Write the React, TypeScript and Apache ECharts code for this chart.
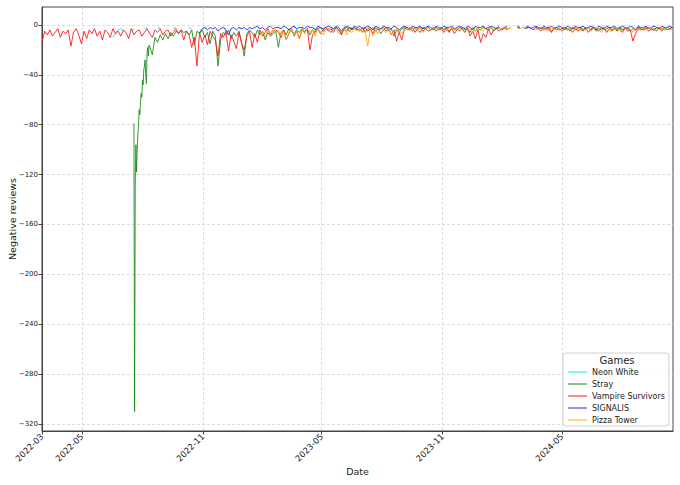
import React, { useEffect, useRef } from "react";
import * as echarts from "echarts";

// ---------- data ----------
const SERIES_NAMES = ["Neon White", "Stray", "Vampire Survivors", "SIGNALIS", "Pizza Tower"];
const SERIES_COLORS = ["#00e8e8", "#138a13", "#ff1010", "#2020e6", "#ffa500"];

const X_START = "2022-03-01";
const X_END = "2024-10-17";
const X_TICKS = ["2022-03-01", "2022-05-01", "2022-11-01", "2023-05-01", "2023-11-01", "2024-05-01"];
const Y_TICKS = [0, -40, -80, -120, -160, -200, -240, -280, -320];
const Y_MIN = -325.6;
const Y_MAX = 14.4;

// values sampled every STEP_DAYS days starting at X_START (index 0)
const STEP_DAYS = 4;

const vampireSurvivorsStart = 0;
const vampireSurvivors = [
  -14, -5, -8, -4, -9, -6, -3, -10, -5, -7,
  -4, -17, -6, -3, -8, -15, -5, -11, -4, -7,
  -3, -9, -5, -12, -4, -6, -10, -3, -7, -5,
  -9, -4, -6, -11, -3, -8, -5, -4, -9, -6,
  -3, -7, -10, -4, -6, -3, -8, -5, -4, -9,
  -6, -3, -7, -4, -12, -5, -8, -18, -10, -33,
  -6, -14, -8, -16, -5, -9, -12, -25, -7, -10,
  -5, -21, -8, -13, -19, -6, -15, -20, -9, -5,
  -18, -7, -14, -4, -9, -6, -3, -8, -5, -4,
  -6, -10, -4, -12, -7, -3, -9, -5, -11, -4,
  -6, -3, -20, -8, -5, -3, -7, -4, -2, -5,
  -3, -6, -2, -4, -8, -3, -2, -5, -3, -2,
  -4, -3, -6, -2, -5, -3, -7, -2, -4, -3,
  -2, -5, -3, -8, -4, -13, -6, -12, -3, -2,
  -4, -2, -6, -3, -2, -5, -3, -2, -4, -3,
  -2, -4, -3, -6, -2, -5, -3, -7, -4, -2,
  -3, -6, -2, -9, -5, -11, -4, -14, -7, -10,
  -3, -8, -4, -2, -5, -3, -2, -4, -2, null,
  null, -2, -3, null, -3, -2, -2, -4, -2, -3,
  -5, -2, -4, -3, -6, -2, -4, -3, -5, -2,
  -4, -3, -6, -2, -5, -3, -4, -2, -6, -3,
  -2, -5, -3, -4, -2, -6, -3, -5, -2, -4,
  -3, -6, -2, -5, -4, -13, -7, -3, -4, -3,
  -2, -5, -3, -4, -2, -3, -5, -2, -4, -3, -2,
];

// Stray launch: daily values from 2022-07-19
const strayLaunchDate = "2022-07-19";
const strayLaunch = [
  -79, -310, -128, -96, -118, -100, -88, -80, -68, -72, -62, -55,
  -58, -44, -48, -36, -33, -28, -40, -47, -22, -18, -25, -16,
];
const strayStart = 41;
const stray = [
  -17, -24, -10, -14, -8, -12, -7, -11, -6,
  -9, -5, -7, -4, -6, -5, -8, -4, -16, -5,
  -7, -4, -10, -6, -15, -5, -9, -33, -12, -6,
  -8, -4, -11, -6, -9, -5, -14, -25, -7, -4,
  -6, -10, -4, -8, -5, -12, -6, -9, -7, -5,
  -18, -6, -4, -8, -3, -5, -7, -4, -6, -3,
  -5, -3, -8, -4, -6, -3, -2, -5, -4, -3,
  -6, -3, -2, -4, -7, -3, -5, -2, -4, -3,
  -3, -5, -2, -6, -3, -4, -2, -5, -3, -7,
  -4, -2, -5, -3, -9, -4, -6, -3, -2, -4,
  -3, -5, -2, -4, -6, -2, -3, -5, -4, -2,
  -5, -3, -2, -4, -3, -6, -2, -4, -3, -5,
  -2, -4, -3, -6, -2, -5, -3, -4, -2, -3,
  -4, -2, -5, -3, -2, -4, -3, -2, null, null,
  null, -2, -3, null, -3, -2, null, -4, -2, -3,
  -2, -4, -3, -2, -5, -3, -2, -4, -3, -2,
  -3, -5, -2, -4, -3, -2, -5, -3, -2, -4,
  -2, -3, -5, -2, -4, -3, -2, -4, -3, -5,
  -2, -4, -3, -2, -5, -3, -4, -2, -3, -4,
  -3, -2, -4, -3, -5, -2, -3, -4, -2, -3, -2,
];

// Neon White: sparse days with reviews (null = no negative reviews that day)
const neonWhiteStart = 27;
const neonWhite = [
  -10, -6, -4,
  -3, -5, null, null, -3, -4, null, null, null, -3,
  -2, null, null, null, -3, -2, null, null, null, null,
  -3, -2, null, null, null, null, -2, -3, null, null,
  null, null, -3, -2, null, null, null, null, null, -2,
  -3, null, null, null, null, -2, -3, null, null, null,
  null, null, -2, -3, null, null, null, null, null, null,
  -2, -3, null, null, null, null, -2, -3, null, null,
  null, null, null, -2, -3, null, null, null, null, null,
  -2, -3, null, null, null, null, null, -3, -2, null,
  null, null, null, null, -2, -3, null, null, null, null,
  null, -2, -3, null, null, null, null, null, -3, -2,
  null, null, null, null, null, -2, -3, null, null, null,
  null, null, null, -3, -2, null, null, null, null, null,
  -2, -3, null, null, null, null, null, null, -2, -3,
  null, null, null, null, null, null, null, null, -2, null,
  null, null, null, -2, -3, null, null, null, null, null,
  -2, -3, null, null, null, null, null, null, -3, -2,
  null, null, null, null, null, -2, -3, null, null, null,
  null, null, null, -3, -2, null, null, null, null, null,
  -2, -3, null, null, null, null, null, -2, -3, null,
  null, null, null, null, -3, -2, null, null, null, null, null,
];

const signalisStart = 60;
const signalis = [
  -6, -3, -2, -4, -2, -3, -2, -5, -3, -2,
  -4, -8, -3, -2, -4, -2, -3, -2, -4, -2,
  -3, -2, -1, -3, -2, -4, -2, -1, -3, -2,
  -2, -3, -1, -2, -4, -2, -1, -3, -2, -2,
  -3, -1, -2, -2, -4, -1, -2, -3, -2, -1,
  -2, -3, -1, -2, -5, -2, -1, -2, -3, -1,
  -2, -1, -3, -2, -1, -2, -4, -1, -2, -3,
  -1, -2, -2, -3, -1, -2, -4, -2, -1, -2,
  -3, -1, -2, -2, -1, -3, -2, -1, -2, -4,
  -1, -2, -3, -1, -2, -2, -1, -3, -2, -1,
  -2, -3, -1, -2, -4, -1, -2, -2, -1, -3,
  -2, -1, -2, -3, -1, null, -2, -1, null, -2,
  null, -1, -2, null, -2, -1, -3, -2, -1, -2,
  -3, -1, -2, -2, -1, -3, -2, -1, -2, -4,
  -1, -2, -3, -1, -2, -2, -1, -3, -2, -1,
  -2, -4, -1, -2, -3, -1, -2, -2, -1, -3,
  -2, -1, -2, -3, -1, -2, -4, -1, -2, -2,
  -1, -3, -2, -1, -2, -3, -1, -2, -2, -1, -2,
];

const pizzaTowerStart = 83;
const pizzaTower = [
  -8, -5, -10, -4, -7, -3, -6,
  -4, -9, -5, -12, -6, -3, -8, -5, -11, -4,
  -7, -3, -6, -4, -9, -3, -5, -8, -4, -3,
  -6, -4, -3, -7, -5, -3, -8, -4, -6, -3,
  -5, -3, -6, -4, -17, -3, -9, -4, -7, -3,
  -4, -6, -3, -8, -4, -3, -5, -7, -3, -4,
  -2, -5, -3, -4, -2, -6, -3, -2, -4, -3,
  -3, -2, -4, -3, -5, -2, -3, -4, -2, -3,
  -4, -2, -5, -3, -6, -2, -4, -3, -5, -2,
  -3, -2, -4, -2, -3, null, -2, -3, -3, -2,
  null, -2, -3, -2, -2, -3, null, -2, -4, -3,
  -2, -4, -3, -5, -2, -3, -4, -2, -5, -3,
  -4, -2, -6, -3, -2, -5, -3, -4, -2, -5,
  -3, -2, -4, -6, -3, -2, -5, -3, -4, -2,
  -5, -3, -2, -4, -3, -6, -2, -4, -3, -2,
  -4, -3, -2, -5, -3, -2, -4, -3, -2, -4, -3,
];

// ---------- helpers ----------
function parseDate(s: string, addDays = 0): number {
  const [y, m, d] = s.split("-").map(Number);
  return new Date(y, m - 1, d + addDays).getTime();
}

function gridSeries(startIndex: number, values: (number | null)[]) {
  return values.map((v, k) => [parseDate(X_START, (startIndex + k) * STEP_DAYS), v]);
}

function dailySeries(startDate: string, values: (number | null)[]) {
  return values.map((v, k) => [parseDate(startDate, k), v]);
}

const FONT = "DejaVu Sans";
const LEGEND_COLORS = [
  "rgba(0,232,232,0.75)",
  "rgba(19,138,19,0.75)",
  "rgba(255,16,16,0.75)",
  "rgba(32,32,230,0.75)",
  "rgba(255,165,0,0.75)",
];

export default function App() {
  const ref = useRef<HTMLDivElement>(null);

  useEffect(() => {
    document.body.style.margin = "0";
    if (!ref.current) return;
    const chart = echarts.init(ref.current, undefined, { renderer: "svg" });

    const seriesData = [
      gridSeries(neonWhiteStart, neonWhite),
      [...dailySeries(strayLaunchDate, strayLaunch), ...gridSeries(strayStart, stray)],
      gridSeries(vampireSurvivorsStart, vampireSurvivors),
      gridSeries(signalisStart, signalis),
      gridSeries(pizzaTowerStart, pizzaTower),
    ];

    const xTickValues = X_TICKS.map((s) => parseDate(s));

    const option = {
      animation: false,
      backgroundColor: "#ffffff",
      textStyle: { fontFamily: FONT },
      grid: {
        left: 42,
        top: 7,
        right: 7,
        bottom: 54,
        show: true,
        borderColor: "#444",
        borderWidth: 1,
        backgroundColor: "transparent",
        containLabel: false,
        outerBoundsMode: "none",
      },
      xAxis: {
        type: "value",
        min: parseDate(X_START),
        max: parseDate(X_END),
        name: "Date",
        nameLocation: "middle",
        nameGap: 35,
        nameMoveOverlap: false,
        nameTextStyle: { fontSize: 9.5, color: "#222", fontFamily: FONT },
        axisLine: { show: true, onZero: false, lineStyle: { color: "#444", width: 1 } },
        axisTick: { show: true, customValues: xTickValues, length: 3.5, lineStyle: { color: "#444" } },
        axisLabel: {
          customValues: xTickValues,
          rotate: 45,
          fontSize: 8.5,
          color: "#222",
          fontFamily: FONT,
          margin: 4,
          showMinLabel: true,
          showMaxLabel: true,
          formatter: (v: number) => {
            const d = new Date(v);
            const m = d.getMonth() + 1;
            return `${d.getFullYear()}-${m < 10 ? "0" + m : m}`;
          },
        },
        splitLine: { show: true, lineStyle: { color: "#d4d4d4", width: 0.8, type: [3, 2] } },
      },
      yAxis: {
        type: "value",
        min: Y_MIN,
        max: Y_MAX,
        name: "Negative reviews",
        nameLocation: "middle",
        nameGap: 25,
        nameRotate: 90,
        nameMoveOverlap: false,
        nameTextStyle: { fontSize: 9.5, color: "#222", fontFamily: FONT },
        axisLine: { show: true, onZero: false, lineStyle: { color: "#444", width: 1 } },
        axisTick: { show: true, customValues: Y_TICKS, length: 3.5, lineStyle: { color: "#444" } },
        axisLabel: {
          customValues: Y_TICKS,
          fontSize: 7,
          color: "#222",
          fontFamily: FONT,
          margin: 4,
          formatter: (v: number) => (v < 0 ? "\u2212" + Math.abs(v) : String(v)),
        },
        splitLine: { show: true, lineStyle: { color: "#d4d4d4", width: 0.8, type: [3, 2] } },
      },
      legend: {
        data: SERIES_NAMES.map((name, i) => ({
          name,
          icon: "rect",
          itemStyle: { color: LEGEND_COLORS[i] },
        })),
        orient: "vertical",
        left: 563,
        top: 353,
        padding: [15, 4, 2, 5],
        itemWidth: 19,
        itemHeight: 1.3,
        itemGap: 4,
        backgroundColor: "rgba(255,255,255,0.85)",
        borderColor: "#d0d0d0",
        borderWidth: 1,
        borderRadius: 3,
        textStyle: { fontSize: 8, color: "#222", fontFamily: FONT, lineHeight: 8, height: 8 },
      },
      graphic: [
        {
          type: "text",
          x: 617,
          y: 360,
          z: 200,
          style: {
            text: "Games",
            fontSize: 10,
            fontFamily: FONT,
            fill: "#222",
            align: "center",
            verticalAlign: "middle",
          },
        },
      ],
      series: SERIES_NAMES.map((name, idx) => ({
        name,
        type: "line",
        data: seriesData[idx],
        symbol: "none",
        showSymbol: false,
        connectNulls: false,
        clip: true,
        color: SERIES_COLORS[idx],
        lineStyle: { width: 1, color: SERIES_COLORS[idx], opacity: 0.85 },
        z: 2 + idx,
      })),
    };

    chart.setOption(option as any);
    return () => chart.dispose();
  }, []);

  return <div ref={ref} style={{ width: 680, height: 485 }} />;
}
